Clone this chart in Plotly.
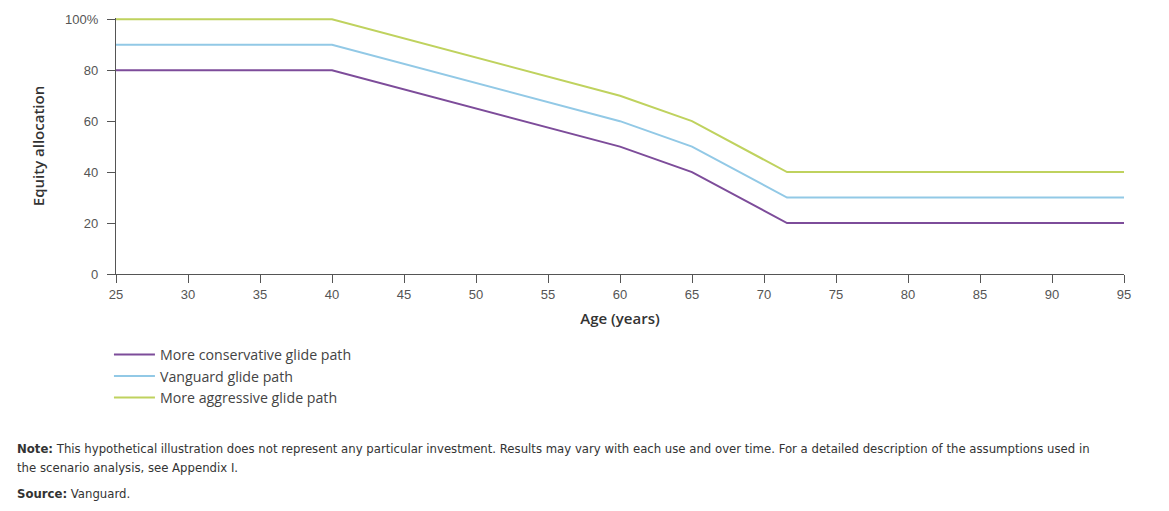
import plotly.graph_objects as go

ages = [25, 40, 60, 65, 71.6, 95]
conservative = [80, 80, 50, 40, 20, 20]
vanguard = [90, 90, 60, 50, 30, 30]
aggressive = [100, 100, 70, 60, 40, 40]

series_names = ["More conservative glide path", "Vanguard glide path", "More aggressive glide path"]
series_values = [conservative, vanguard, aggressive]
series_colors = ["#7d4c9a", "#92c9e6", "#bfd25e"]

x_ticks = list(range(25, 96, 5))
y_ticks = [0, 20, 40, 60, 80, 100]
y_tick_labels = ["0", "20", "40", "60", "80", "100%"]

note_line1 = ("<b>Note:</b> This hypothetical illustration does not represent any particular investment. "
              "Results may vary with each use and over time. For a detailed description of the assumptions used in")
note_line2 = "the scenario analysis, see Appendix I."
source_text = "<b>Source:</b> Vanguard."

fig = go.Figure()
for name, vals, col in zip(series_names, series_values, series_colors):
    fig.add_trace(go.Scatter(x=ages, y=vals, mode="lines", name=name, cliponaxis=False,
                             line=dict(color=col, width=2)))

axis_font = dict(family="Liberation Sans, Arial, sans-serif", size=13, color="#555555")
title_font = dict(family="Open Sans, Liberation Sans, sans-serif", size=15, color="#333333", weight=600)
note_font = dict(family="Liberation Sans Narrow, DejaVu Sans Condensed, Liberation Sans, sans-serif",
                 size=13, color="#333333")

fig.update_layout(
    width=1169, height=511,
    margin=dict(l=116, r=45, t=18, b=237),
    paper_bgcolor="white", plot_bgcolor="white",
    font=dict(family="Liberation Sans, Arial, sans-serif", size=14, color="#444444"),
    showlegend=True,
    legend=dict(x=-0.007, y=-0.253, xanchor="left", yanchor="top",
                font=dict(family="Open Sans, Liberation Sans, sans-serif", size=14.2, color="#444444"),
                tracegroupgap=0, itemwidth=41, bgcolor="rgba(0,0,0,0)"),
    xaxis=dict(range=[25, 95], tickvals=x_ticks, ticks="outside", ticklen=8,
               tickcolor="#555555", tickwidth=1, showline=True, linecolor="#555555",
               linewidth=1.2, showgrid=False, zeroline=False, tickfont=axis_font,
               title=dict(text="Age (years)", font=title_font, standoff=12)),
    yaxis=dict(range=[0, 100.5], tickvals=y_ticks, ticktext=y_tick_labels, ticks="outside",
               ticklen=8, tickcolor="#555555", tickwidth=1, showline=True, linecolor="#555555",
               linewidth=1.2, showgrid=False, zeroline=False, tickfont=axis_font,
               ticklabelstandoff=6,
               title=dict(text="Equity allocation", font=title_font, standoff=16)),
)

for txt, yy in [(note_line1, -0.643), (note_line2, -0.7176), (source_text, -0.8196)]:
    fig.add_annotation(xref="paper", yref="paper", x=-0.1002, y=yy, xanchor="left", yanchor="top",
                       text=txt, showarrow=False, align="left", font=note_font)

fig.write_html("out.html", config={"displayModeBar": False},
               post_script="document.body.style.margin='0';")
